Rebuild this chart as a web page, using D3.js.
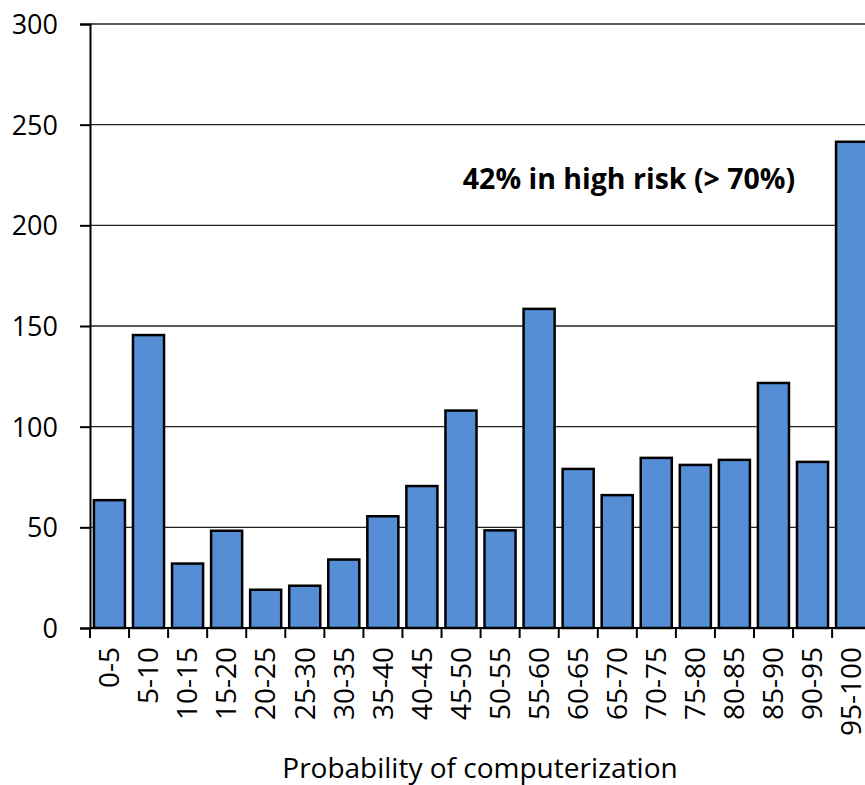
<!DOCTYPE html>
<html><head><meta charset="utf-8">
<script src="https://cdn.jsdelivr.net/npm/d3@7"></script>
<style>body{margin:0;background:#fff}svg{display:block}</style>
</head><body>
<script>
const categories = ["0-5","5-10","10-15","15-20","20-25","25-30","30-35","35-40","40-45","45-50","50-55","55-60","60-65","65-70","70-75","75-80","80-85","85-90","90-95","95-100"];
const values = [63.5,145.5,32,48.3,19,21,34,55.5,70.5,108,48.5,158.5,79,66,84.5,81,83.5,121.7,82.5,241.5];
const yTicks = [0,50,100,150,200,250,300];
const annotation = "42% in high risk (> 70%)";
const xTitle = "Probability of computerization";

const W = 865, H = 785;
const svg = d3.select("body").append("svg").attr("width", W).attr("height", H);
const font = "'Open Sans', sans-serif";

const x = d3.scaleBand().domain(categories).range([90, 871]).paddingInner(0.205).paddingOuter(0.1);
const y = d3.scaleLinear().domain([0, 300]).range([628, 24]);

// gridlines
svg.append("g").selectAll("line").data(yTicks.filter(d => d > 0)).join("line")
  .attr("x1", 90).attr("x2", W).attr("y1", d => y(d)).attr("y2", d => y(d))
  .attr("stroke", "#222").attr("stroke-width", 1.3);

// bars
svg.append("g").selectAll("rect").data(values).join("rect")
  .attr("x", (d, i) => x(categories[i]))
  .attr("y", d => y(d))
  .attr("width", x.bandwidth())
  .attr("height", d => y(0) - y(d))
  .attr("fill", "#558ed5").attr("stroke", "#000").attr("stroke-width", 2.5);

// y axis
const yAxis = svg.append("g").attr("transform", "translate(90,0)")
  .call(d3.axisLeft(y).tickValues(yTicks).tickSize(10).tickPadding(22));
yAxis.select(".domain").attr("stroke", "#000").attr("stroke-width", 2);
yAxis.selectAll(".tick line").attr("stroke", "#000").attr("stroke-width", 2);
yAxis.selectAll(".tick text").attr("font-family", font).attr("font-size", 27).attr("fill", "#000").attr("dy", "0.35em");

// x axis
const xAxis = svg.append("g").attr("transform", "translate(0,628)")
  .call(d3.axisBottom(x).tickSize(0).tickPadding(0));
xAxis.select(".domain").remove();
svg.append("line").attr("x1", 90).attr("x2", W).attr("y1", 628).attr("y2", 628).attr("stroke", "#000").attr("stroke-width", 2);
// x tick marks at band boundaries
const bounds = d3.range(categories.length).map(i => x.range()[0] + i * x.step());
svg.append("g").selectAll("line").data(bounds).join("line")
  .attr("x1", d => d).attr("x2", d => d).attr("y1", 628).attr("y2", 638)
  .attr("stroke", "#000").attr("stroke-width", 2);
xAxis.selectAll(".tick text")
  .attr("font-family", font).attr("font-size", 28).attr("fill", "#000")
  .attr("text-anchor", "end")
  .attr("transform", "translate(0,19) rotate(-90)")
  .attr("dy", "0.35em").attr("y", 0).attr("x", 0);

// annotation
svg.append("text").attr("x", 629).attr("y", 189).attr("text-anchor", "middle")
  .attr("font-family", font).attr("font-weight", "bold").attr("font-size", 28.5).text(annotation);

// x title
svg.append("text").attr("x", 480).attr("y", 778).attr("text-anchor", "middle")
  .attr("font-family", font).attr("font-size", 28).text(xTitle);
</script>
</body></html>
